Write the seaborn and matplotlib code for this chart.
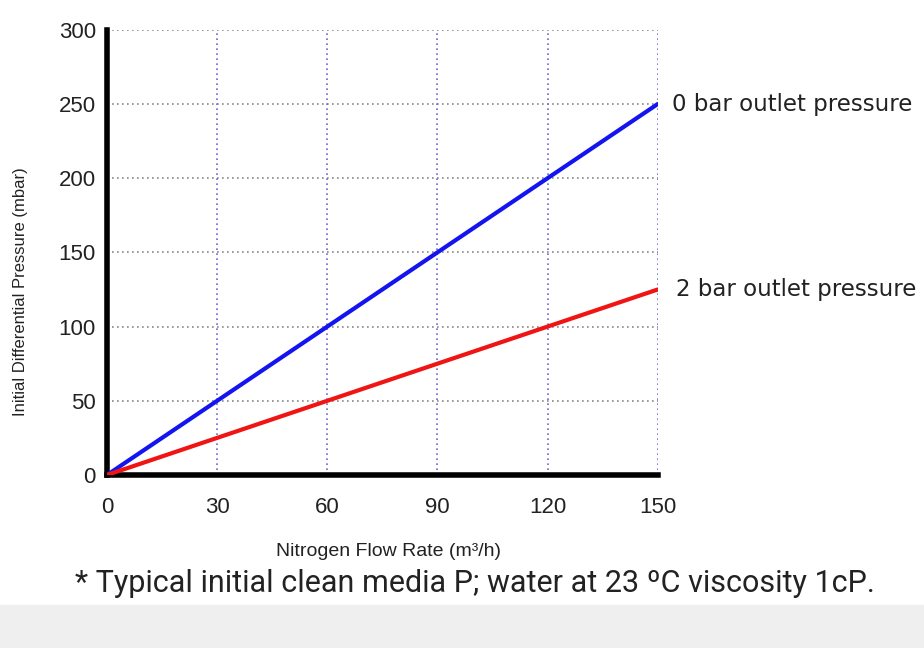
import pandas as pd
import seaborn as sns
import matplotlib.pyplot as plt

# valores
flow = [0, 150]
dp_0bar = [0, 250]
dp_2bar = [0, 125]
series_names = ["0 bar outlet pressure", "2 bar outlet pressure"]
x_ticks = [0, 30, 60, 90, 120, 150]
y_ticks = [0, 50, 100, 150, 200, 250, 300]

df = pd.DataFrame({
    "flow": flow + flow,
    "dp": dp_0bar + dp_2bar,
    "serie": [series_names[0]] * 2 + [series_names[1]] * 2,
})

sns.set_theme(style="white")
plt.rcParams['font.family'] = ['Liberation Sans', 'DejaVu Sans']

fig = plt.figure(figsize=(9.24, 6.48), dpi=100)
ax = fig.add_axes([0.1158, 0.267, 0.596, 0.687])

# grade pontilhada
for y in y_ticks[1:]:
    ax.axhline(y, color="#888888", lw=1.2, ls=(0, (1, 2)), zorder=1)
for x in x_ticks[1:]:
    ax.axvline(x, color="#6a6ad8", lw=1.2, ls=(0, (1, 2)), zorder=1)

sns.lineplot(data=df, x="flow", y="dp", hue="serie",
             palette={series_names[0]: "#1414f0", series_names[1]: "#f01414"},
             lw=3, legend=False, ax=ax, zorder=3)

ax.set_xlim(0, 150)
ax.set_ylim(0, 300)
ax.set_xticks(x_ticks)
ax.set_yticks(y_ticks)
ax.tick_params(length=0, labelsize=16, colors="#222222")
ax.tick_params(axis="x", pad=16)
ax.tick_params(axis="y", pad=8)

for s in ["top", "right"]:
    ax.spines[s].set_visible(False)
for s in ["left", "bottom"]:
    ax.spines[s].set_linewidth(4)
    ax.spines[s].set_color("black")

ax.set_xlabel("")
ax.set_ylabel("")
fig.text(0.42, 1 - 551 / 648, "Nitrogen Flow Rate (m³/h)", fontsize=14,
         ha="center", va="center", color="#222222")

# rótulos das linhas
ax.text(154, 250, series_names[0], fontsize=16.5, va="center", ha="left",
        family="DejaVu Sans", color="#222222", clip_on=False)
ax.text(155, 125, series_names[1], fontsize=16.5, va="center", ha="left",
        family="DejaVu Sans", color="#222222", clip_on=False)

# rótulo do eixo y junto à borda
fig.text(0.022, 0.55, "Initial Differential Pressure (mbar)", rotation=90,
         fontsize=12, va="center", ha="center", color="#222222")

# faixa cinza no rodapé
fig.patches.append(plt.Rectangle((0, 0), 1, 0.066, transform=fig.transFigure,
                                 color="#efefef", zorder=0))

fig.text(0.081, 1 - 584 / 648, "* Typical initial clean media P; water at 23 ºC viscosity 1cP.",
         fontsize=22, family="Roboto", color="#222222",
         va="center", ha="left")

plt.savefig("out.png", dpi=100)
